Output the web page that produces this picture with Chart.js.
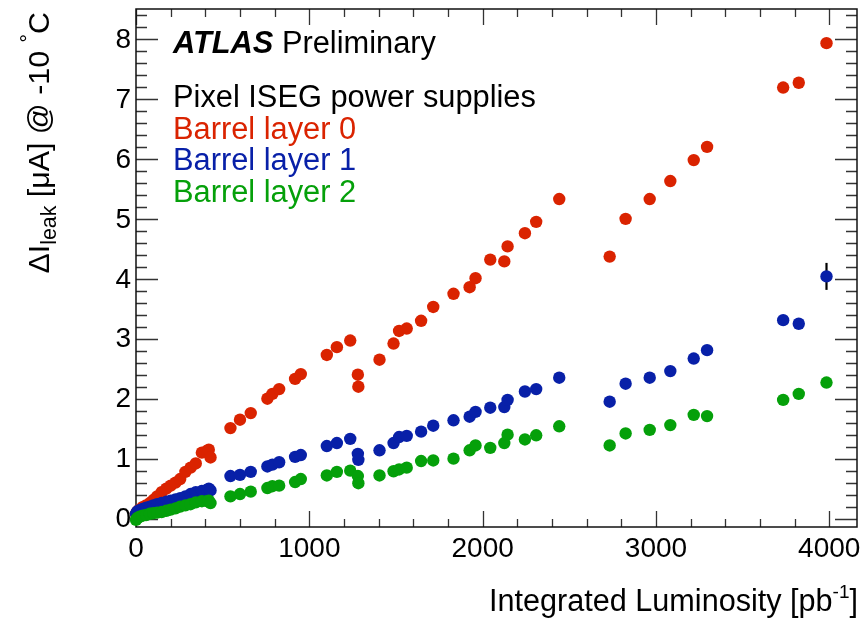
<!DOCTYPE html>
<html>
<head>
<meta charset="utf-8">
<script src="https://cdn.jsdelivr.net/npm/chart.js@4.4.1/dist/chart.umd.min.js"></script>
<style>
  html, body { margin: 0; padding: 0; background: #ffffff; }
  #wrap { width: 866px; height: 618px; }
</style>
</head>
<body>
<div id="wrap"><canvas id="c" width="866" height="618"></canvas></div>
<script>
// Integrated luminosity of each measurement [pb^-1]
const luminosity = [
  0, 8, 20, 38, 58, 80, 100, 122, 148, 175, 200, 228, 255, 285, 315, 345, 380, 410, 420, 430,
  545, 600, 662, 758, 787, 826, 918, 951, 1101, 1159, 1236, 1280, 1283, 1405, 1486, 1518, 1562,
  1645, 1715, 1832, 1925, 1959, 2044, 2125, 2144, 2244, 2309, 2442, 2733, 2825, 2964, 3083,
  3218, 3295, 3734, 3824, 3984
];
// Leakage current increase at -10 C [uA]
const layer0 = [
  0.08, 0.12, 0.15, 0.19, 0.22, 0.26, 0.31, 0.37, 0.44, 0.50, 0.55, 0.60, 0.66, 0.78, 0.85, 0.92, 1.10, 1.13, 1.15, 1.02,
  1.51, 1.65, 1.76, 2.00, 2.08, 2.16, 2.33, 2.41, 2.73, 2.86, 2.97, 2.40, 2.20, 2.65, 2.92, 3.13, 3.17,
  3.30, 3.53, 3.75, 3.86, 4.01, 4.32, 4.29, 4.54, 4.76, 4.95, 5.33, 4.37, 5.00, 5.33, 5.63,
  5.98, 6.20, 7.19, 7.27, 7.93
];
const layer1 = [
  0.08, 0.12, 0.14, 0.16, 0.18, 0.20, 0.22, 0.24, 0.26, 0.28, 0.30, 0.32, 0.34, 0.37, 0.41, 0.44, 0.46, 0.48, 0.50, 0.47,
  0.71, 0.73, 0.78, 0.87, 0.90, 0.94, 1.03, 1.06, 1.21, 1.26, 1.33, 1.08, 0.98, 1.14, 1.26, 1.36, 1.38,
  1.45, 1.55, 1.64, 1.70, 1.78, 1.85, 1.86, 1.98, 2.12, 2.16, 2.35, 1.95, 2.25, 2.35, 2.46,
  2.67, 2.81, 3.31, 3.25, 4.04
];
const layer2 = [
  -0.02, 0.01, 0.03, 0.05, 0.06, 0.08, 0.09, 0.10, 0.11, 0.13, 0.15, 0.17, 0.20, 0.22, 0.24, 0.27, 0.29, 0.29, 0.30, 0.26,
  0.37, 0.41, 0.45, 0.51, 0.54, 0.55, 0.61, 0.66, 0.72, 0.78, 0.80, 0.71, 0.59, 0.72, 0.79, 0.82, 0.85,
  0.96, 0.97, 1.00, 1.14, 1.22, 1.18, 1.26, 1.40, 1.32, 1.39, 1.54, 1.22, 1.42, 1.48, 1.56,
  1.73, 1.71, 1.98, 2.08, 2.27
];
// Uncertainty on layer 1 (only the last point has a visible bar)
const layer1Err = luminosity.map((_, i) => (i === luminosity.length - 1 ? 0.225 : 0));

const xMajorTicks = [0, 1000, 2000, 3000, 4000];
const yMajorTicks = [0, 1, 2, 3, 4, 5, 6, 7, 8];
const xMinorStep = 200;
const yMinorStep = 0.2;

const FONT = '"Liberation Sans", Arial, Helvetica, sans-serif';
const RED = '#da2300';
const BLUE = '#0820a8';
const GREEN = '#05a00a';

function pts(ys) { return luminosity.map((x, i) => ({ x: x, y: ys[i] })); }

// Draws a sequence of text runs; each run may be raised or lowered and scaled.
function drawRuns(ctx, runs, x, y, size, align) {
  const fontOf = r => (r.style || '') + ' ' + (size * (r.scale || 1)).toFixed(1) + 'px ' + FONT;
  const widths = runs.map(r => { ctx.font = fontOf(r); return ctx.measureText(r.t).width; });
  const total = widths.reduce((a, b) => a + b, 0);
  let cx = align === 'right' ? x - total : x;
  runs.forEach((r, i) => {
    ctx.font = fontOf(r);
    ctx.fillStyle = r.color || '#000';
    ctx.textAlign = 'left';
    ctx.textBaseline = 'alphabetic';
    ctx.fillText(r.t, cx, y + (r.dy || 0) * size);
    cx += widths[i];
  });
}

const framePlugin = {
  id: 'rootFrame',
  beforeDatasetsDraw(chart) {
    const { ctx, chartArea: a, scales: { x, y } } = chart;
    ctx.save();
    ctx.strokeStyle = '#333';
    ctx.lineWidth = 1.3;
    ctx.beginPath();
    // x ticks, bottom and top
    for (let v = 0; v <= x.max; v += xMinorStep) {
      const px = Math.round(x.getPixelForValue(v)) + 0.5;
      const major = xMajorTicks.includes(Math.round(v));
      const len = major ? 16 : 8;
      ctx.moveTo(px, a.bottom); ctx.lineTo(px, a.bottom - len);
      ctx.moveTo(px, a.top); ctx.lineTo(px, a.top + len);
    }
    // y ticks, left and right
    for (let k = Math.ceil(y.min / yMinorStep); k * yMinorStep <= y.max + 1e-9; k++) {
      const v = k * yMinorStep;
      const py = Math.round(y.getPixelForValue(v)) + 0.5;
      const major = yMajorTicks.some(t => Math.abs(t - v) < 1e-6);
      const len = major ? 22 : 11;
      ctx.moveTo(a.left, py); ctx.lineTo(a.left + len, py);
      ctx.moveTo(a.right, py); ctx.lineTo(a.right - len, py);
    }
    ctx.stroke();
    // frame
    ctx.strokeStyle = '#111';
    ctx.lineWidth = 1.5;
    ctx.strokeRect(a.left, a.top, a.right - a.left, a.bottom - a.top);

    // error bars of layer 1
    ctx.strokeStyle = '#000';
    ctx.lineWidth = 2.2;
    ctx.beginPath();
    layer1Err.forEach((e, i) => {
      if (!e) return;
      const px = x.getPixelForValue(luminosity[i]);
      ctx.moveTo(px, y.getPixelForValue(layer1[i] - e));
      ctx.lineTo(px, y.getPixelForValue(layer1[i] + e));
    });
    ctx.stroke();
    ctx.restore();
  },
  afterDraw(chart) {
    const { ctx, chartArea: a, scales: { x, y } } = chart;
    ctx.save();
    // tick labels
    ctx.fillStyle = '#000';
    ctx.font = '28px ' + FONT;
    ctx.textAlign = 'center';
    ctx.textBaseline = 'alphabetic';
    xMajorTicks.forEach(v => ctx.fillText(String(v), x.getPixelForValue(v), 557));
    ctx.textAlign = 'right';
    ctx.textBaseline = 'middle';
    yMajorTicks.forEach(v => ctx.fillText(String(v), a.left - 5, y.getPixelForValue(v) + 1));

    // legend block
    const ls = 30.8;
    drawRuns(ctx, [
      { t: 'ATLAS', style: 'italic bold' },
      { t: ' Preliminary' }
    ], 173, 53, ls, 'left');
    drawRuns(ctx, [{ t: 'Pixel ISEG power supplies' }], 173, 107, ls, 'left');
    drawRuns(ctx, [{ t: 'Barrel layer 0', color: RED }], 173, 138.5, ls, 'left');
    drawRuns(ctx, [{ t: 'Barrel layer 1', color: BLUE }], 173, 170, ls, 'left');
    drawRuns(ctx, [{ t: 'Barrel layer 2', color: GREEN }], 173, 202, ls, 'left');

    // x axis title
    drawRuns(ctx, [
      { t: 'Integrated Luminosity [pb' },
      { t: '-1', scale: 0.62, dy: -0.42 },
      { t: ']' }
    ], a.right + 1, 611, 30.6, 'right');

    // y axis title, rotated
    ctx.translate(49, 12);
    ctx.rotate(-Math.PI / 2);
    drawRuns(ctx, [
      { t: '\u0394I' },
      { t: 'leak', scale: 0.7, dy: 0.22 },
      { t: ' [\u03bcA] @ -10 ' },
      { t: '\u00b0', scale: 0.7, dy: -0.42 },
      { t: 'C' }
    ], 0, 0, 30.4, 'right');
    ctx.restore();
  }
};

const common = { showLine: false, pointRadius: 6.2, pointHoverRadius: 6.2, pointBorderWidth: 0, clip: false };

new Chart(document.getElementById('c'), {
  type: 'scatter',
  data: {
    datasets: [
      Object.assign({ label: 'Barrel layer 2', data: pts(layer2), backgroundColor: GREEN, borderColor: GREEN, order: 0 }, common),
      Object.assign({ label: 'Barrel layer 1', data: pts(layer1), backgroundColor: BLUE, borderColor: BLUE, order: 1 }, common),
      Object.assign({ label: 'Barrel layer 0', data: pts(layer0), backgroundColor: RED, borderColor: RED, order: 2 }, common)
    ]
  },
  options: {
    responsive: false,
    animation: false,
    devicePixelRatio: 1,
    layout: { padding: { left: 136, right: 9, top: 9, bottom: 91 } },
    plugins: { legend: { display: false }, tooltip: { enabled: false } },
    scales: {
      x: { type: 'linear', min: 0, max: 4160, display: false },
      y: { type: 'linear', min: -0.14, max: 8.5, display: false }
    }
  },
  plugins: [framePlugin]
});
</script>
</body>
</html>
